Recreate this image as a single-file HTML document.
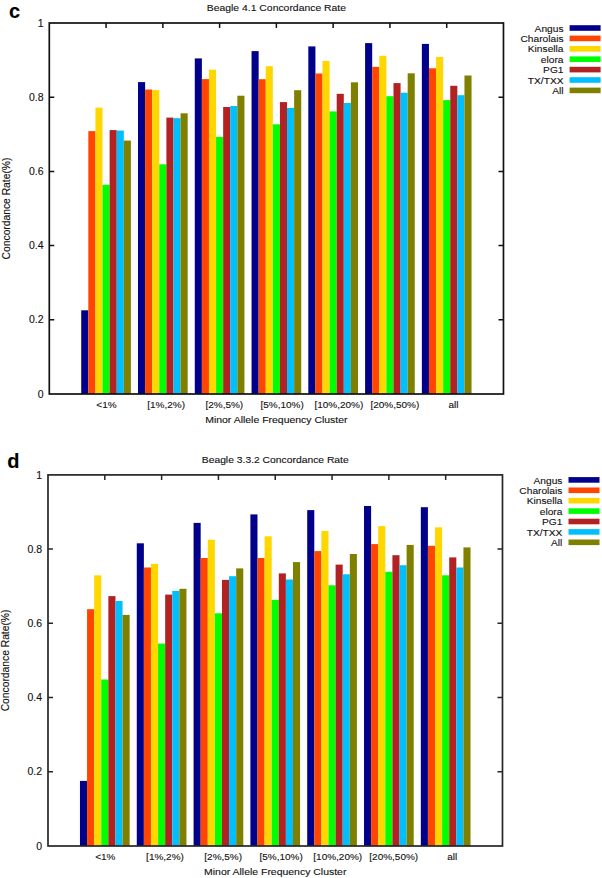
<!DOCTYPE html>
<html><head><meta charset="utf-8"><style>
html,body{margin:0;padding:0;background:#fff;overflow:hidden;}
svg{display:block;}
text{font-family:"Liberation Sans",sans-serif;font-size:10px;fill:#111;stroke:#111;stroke-width:0.12px;}
</style></head><body>
<svg width="602" height="878" viewBox="0 0 602 878">
<rect x="81.23" y="310.30" width="7.10" height="83.70" fill="#00008b"/>
<rect x="88.33" y="131.10" width="7.10" height="262.90" fill="#ff4500"/>
<rect x="95.43" y="107.60" width="7.10" height="286.40" fill="#ffd700"/>
<rect x="102.52" y="184.80" width="7.10" height="209.20" fill="#00ff00"/>
<rect x="109.62" y="130.10" width="7.10" height="263.90" fill="#b22222"/>
<rect x="116.72" y="130.60" width="7.10" height="263.40" fill="#00bfff"/>
<rect x="123.81" y="140.60" width="7.10" height="253.40" fill="#808000"/>
<rect x="138.01" y="82.10" width="7.10" height="311.90" fill="#00008b"/>
<rect x="145.10" y="89.50" width="7.10" height="304.50" fill="#ff4500"/>
<rect x="152.20" y="90.10" width="7.10" height="303.90" fill="#ffd700"/>
<rect x="159.29" y="164.30" width="7.10" height="229.70" fill="#00ff00"/>
<rect x="166.39" y="117.60" width="7.10" height="276.40" fill="#b22222"/>
<rect x="173.49" y="118.20" width="7.10" height="275.80" fill="#00bfff"/>
<rect x="180.58" y="113.30" width="7.10" height="280.70" fill="#808000"/>
<rect x="194.78" y="58.40" width="7.10" height="335.60" fill="#00008b"/>
<rect x="201.87" y="79.10" width="7.10" height="314.90" fill="#ff4500"/>
<rect x="208.97" y="69.70" width="7.10" height="324.30" fill="#ffd700"/>
<rect x="216.07" y="136.90" width="7.10" height="257.10" fill="#00ff00"/>
<rect x="223.16" y="107.00" width="7.10" height="287.00" fill="#b22222"/>
<rect x="230.26" y="106.00" width="7.10" height="288.00" fill="#00bfff"/>
<rect x="237.35" y="95.70" width="7.10" height="298.30" fill="#808000"/>
<rect x="251.55" y="51.10" width="7.10" height="342.90" fill="#00008b"/>
<rect x="258.64" y="79.20" width="7.10" height="314.80" fill="#ff4500"/>
<rect x="265.74" y="66.20" width="7.10" height="327.80" fill="#ffd700"/>
<rect x="272.84" y="124.30" width="7.10" height="269.70" fill="#00ff00"/>
<rect x="279.93" y="102.10" width="7.10" height="291.90" fill="#b22222"/>
<rect x="287.03" y="107.90" width="7.10" height="286.10" fill="#00bfff"/>
<rect x="294.13" y="90.20" width="7.10" height="303.80" fill="#808000"/>
<rect x="308.32" y="46.40" width="7.10" height="347.60" fill="#00008b"/>
<rect x="315.42" y="73.50" width="7.10" height="320.50" fill="#ff4500"/>
<rect x="322.51" y="61.00" width="7.10" height="333.00" fill="#ffd700"/>
<rect x="329.61" y="111.40" width="7.10" height="282.60" fill="#00ff00"/>
<rect x="336.70" y="93.80" width="7.10" height="300.20" fill="#b22222"/>
<rect x="343.80" y="103.00" width="7.10" height="291.00" fill="#00bfff"/>
<rect x="350.90" y="82.30" width="7.10" height="311.70" fill="#808000"/>
<rect x="365.09" y="43.10" width="7.10" height="350.90" fill="#00008b"/>
<rect x="372.19" y="66.90" width="7.10" height="327.10" fill="#ff4500"/>
<rect x="379.28" y="55.80" width="7.10" height="338.20" fill="#ffd700"/>
<rect x="386.38" y="96.20" width="7.10" height="297.80" fill="#00ff00"/>
<rect x="393.48" y="83.10" width="7.10" height="310.90" fill="#b22222"/>
<rect x="400.57" y="92.70" width="7.10" height="301.30" fill="#00bfff"/>
<rect x="407.67" y="73.30" width="7.10" height="320.70" fill="#808000"/>
<rect x="421.86" y="43.90" width="7.10" height="350.10" fill="#00008b"/>
<rect x="428.96" y="68.30" width="7.10" height="325.70" fill="#ff4500"/>
<rect x="436.05" y="56.90" width="7.10" height="337.10" fill="#ffd700"/>
<rect x="443.15" y="100.10" width="7.10" height="293.90" fill="#00ff00"/>
<rect x="450.25" y="85.80" width="7.10" height="308.20" fill="#b22222"/>
<rect x="457.34" y="95.20" width="7.10" height="298.80" fill="#00bfff"/>
<rect x="464.44" y="75.50" width="7.10" height="318.50" fill="#808000"/>
<rect x="49.30" y="23.00" width="454.17" height="371.00" fill="none" stroke="#111" stroke-width="1.7"/>
<text transform="translate(43.60 397.60) scale(1.05 1.0)" text-anchor="end">0</text>
<text transform="translate(43.60 323.40) scale(1.05 1.0)" text-anchor="end">0.2</text>
<text transform="translate(43.60 249.20) scale(1.05 1.0)" text-anchor="end">0.4</text>
<text transform="translate(43.60 175.00) scale(1.05 1.0)" text-anchor="end">0.6</text>
<text transform="translate(43.60 100.80) scale(1.05 1.0)" text-anchor="end">0.8</text>
<text transform="translate(43.60 26.60) scale(1.05 1.0)" text-anchor="end">1</text>
<path d="M49.30 319.80h5M503.47 319.80h-5M49.30 245.60h5M503.47 245.60h-5M49.30 171.40h5M503.47 171.40h-5M49.30 97.20h5M503.47 97.20h-5M106.07 23.00v5M162.84 23.00v5M219.61 23.00v5M276.38 23.00v5M333.16 23.00v5M389.93 23.00v5M446.70 23.00v5" stroke="#111" stroke-width="1.5" fill="none"/>
<text transform="translate(96.30 407.80) scale(1.0 0.95)">&lt;1%</text>
<text transform="translate(147.20 407.80) scale(1.0 0.95)">[1%,2%)</text>
<text transform="translate(205.40 407.80) scale(1.0 0.95)">[2%,5%)</text>
<text transform="translate(260.50 407.80) scale(1.0 0.95)">[5%,10%)</text>
<text transform="translate(314.40 407.80) scale(1.0 0.95)">[10%,20%)</text>
<text transform="translate(370.40 407.80) scale(1.0 0.95)">[20%,50%)</text>
<text transform="translate(448.40 407.80) scale(1.0 0.95)">all</text>
<text transform="translate(276.38 423.30) scale(1.046 0.95)" text-anchor="middle">Minor Allele Frequency Cluster</text>
<text transform="translate(276.38 10.70) scale(1.04 0.96)" text-anchor="middle">Beagle 4.1 Concordance Rate</text>
<text transform="translate(10.00 208.50) rotate(-90) scale(1.03 1.0)" text-anchor="middle">Concordance Rate(%)</text>
<rect x="569.60" y="25.20" width="31" height="5.6" fill="#00008b"/>
<text transform="translate(563.50 31.60) scale(1.02 0.95)" text-anchor="end">Angus</text>
<rect x="569.60" y="35.60" width="31" height="5.6" fill="#ff4500"/>
<text transform="translate(563.50 42.00) scale(1.02 0.95)" text-anchor="end">Charolais</text>
<rect x="569.60" y="46.00" width="31" height="5.6" fill="#ffd700"/>
<text transform="translate(563.50 52.40) scale(1.02 0.95)" text-anchor="end">Kinsella</text>
<rect x="569.60" y="56.40" width="31" height="5.6" fill="#00ff00"/>
<text transform="translate(563.50 62.80) scale(1.02 0.95)" text-anchor="end">elora</text>
<rect x="569.60" y="66.80" width="31" height="5.6" fill="#b22222"/>
<text transform="translate(563.50 73.20) scale(1.02 0.95)" text-anchor="end">PG1</text>
<rect x="569.60" y="77.20" width="31" height="5.6" fill="#00bfff"/>
<text transform="translate(563.50 83.60) scale(1.02 0.95)" text-anchor="end">TX/TXX</text>
<rect x="569.60" y="87.60" width="31" height="5.6" fill="#808000"/>
<text transform="translate(563.50 94.00) scale(1.02 0.95)" text-anchor="end">All</text>
<rect x="79.96" y="780.90" width="7.10" height="65.10" fill="#00008b"/>
<rect x="87.06" y="609.20" width="7.10" height="236.80" fill="#ff4500"/>
<rect x="94.16" y="575.30" width="7.10" height="270.70" fill="#ffd700"/>
<rect x="101.26" y="679.50" width="7.10" height="166.50" fill="#00ff00"/>
<rect x="108.36" y="596.10" width="7.10" height="249.90" fill="#b22222"/>
<rect x="115.46" y="601.00" width="7.10" height="245.00" fill="#00bfff"/>
<rect x="122.56" y="614.90" width="7.10" height="231.10" fill="#808000"/>
<rect x="136.77" y="543.30" width="7.10" height="302.70" fill="#00008b"/>
<rect x="143.87" y="567.50" width="7.10" height="278.50" fill="#ff4500"/>
<rect x="150.97" y="563.80" width="7.10" height="282.20" fill="#ffd700"/>
<rect x="158.07" y="643.60" width="7.10" height="202.40" fill="#00ff00"/>
<rect x="165.17" y="594.60" width="7.10" height="251.40" fill="#b22222"/>
<rect x="172.27" y="590.90" width="7.10" height="255.10" fill="#00bfff"/>
<rect x="179.37" y="588.80" width="7.10" height="257.20" fill="#808000"/>
<rect x="193.58" y="522.90" width="7.10" height="323.10" fill="#00008b"/>
<rect x="200.68" y="558.00" width="7.10" height="288.00" fill="#ff4500"/>
<rect x="207.78" y="539.70" width="7.10" height="306.30" fill="#ffd700"/>
<rect x="214.88" y="613.30" width="7.10" height="232.70" fill="#00ff00"/>
<rect x="221.98" y="579.90" width="7.10" height="266.10" fill="#b22222"/>
<rect x="229.08" y="576.20" width="7.10" height="269.80" fill="#00bfff"/>
<rect x="236.18" y="568.40" width="7.10" height="277.60" fill="#808000"/>
<rect x="250.39" y="514.40" width="7.10" height="331.60" fill="#00008b"/>
<rect x="257.49" y="558.00" width="7.10" height="288.00" fill="#ff4500"/>
<rect x="264.59" y="536.30" width="7.10" height="309.70" fill="#ffd700"/>
<rect x="271.69" y="599.80" width="7.10" height="246.20" fill="#00ff00"/>
<rect x="278.79" y="573.40" width="7.10" height="272.60" fill="#b22222"/>
<rect x="285.89" y="579.50" width="7.10" height="266.50" fill="#00bfff"/>
<rect x="292.99" y="562.10" width="7.10" height="283.90" fill="#808000"/>
<rect x="307.20" y="510.10" width="7.10" height="335.90" fill="#00008b"/>
<rect x="314.30" y="551.10" width="7.10" height="294.90" fill="#ff4500"/>
<rect x="321.40" y="531.00" width="7.10" height="315.00" fill="#ffd700"/>
<rect x="328.50" y="585.30" width="7.10" height="260.70" fill="#00ff00"/>
<rect x="335.60" y="564.60" width="7.10" height="281.40" fill="#b22222"/>
<rect x="342.70" y="574.30" width="7.10" height="271.70" fill="#00bfff"/>
<rect x="349.80" y="554.00" width="7.10" height="292.00" fill="#808000"/>
<rect x="364.01" y="506.00" width="7.10" height="340.00" fill="#00008b"/>
<rect x="371.11" y="544.10" width="7.10" height="301.90" fill="#ff4500"/>
<rect x="378.21" y="526.10" width="7.10" height="319.90" fill="#ffd700"/>
<rect x="385.31" y="571.80" width="7.10" height="274.20" fill="#00ff00"/>
<rect x="392.41" y="555.20" width="7.10" height="290.80" fill="#b22222"/>
<rect x="399.51" y="565.20" width="7.10" height="280.80" fill="#00bfff"/>
<rect x="406.61" y="544.90" width="7.10" height="301.10" fill="#808000"/>
<rect x="420.82" y="507.20" width="7.10" height="338.80" fill="#00008b"/>
<rect x="427.92" y="545.80" width="7.10" height="300.20" fill="#ff4500"/>
<rect x="435.02" y="527.30" width="7.10" height="318.70" fill="#ffd700"/>
<rect x="442.12" y="575.30" width="7.10" height="270.70" fill="#00ff00"/>
<rect x="449.22" y="557.40" width="7.10" height="288.60" fill="#b22222"/>
<rect x="456.32" y="567.50" width="7.10" height="278.50" fill="#00bfff"/>
<rect x="463.42" y="547.40" width="7.10" height="298.60" fill="#808000"/>
<rect x="48.00" y="474.90" width="454.48" height="371.10" fill="none" stroke="#262626" stroke-width="1.7"/>
<text transform="translate(42.10 849.60) scale(1.05 1.0)" text-anchor="end">0</text>
<text transform="translate(42.10 775.38) scale(1.05 1.0)" text-anchor="end">0.2</text>
<text transform="translate(42.10 701.16) scale(1.05 1.0)" text-anchor="end">0.4</text>
<text transform="translate(42.10 626.94) scale(1.05 1.0)" text-anchor="end">0.6</text>
<text transform="translate(42.10 552.72) scale(1.05 1.0)" text-anchor="end">0.8</text>
<text transform="translate(42.10 478.50) scale(1.05 1.0)" text-anchor="end">1</text>
<path d="M48.00 771.78h5M502.48 771.78h-5M48.00 697.56h5M502.48 697.56h-5M48.00 623.34h5M502.48 623.34h-5M48.00 549.12h5M502.48 549.12h-5M104.81 474.90v5M161.62 474.90v5M218.43 474.90v5M275.24 474.90v5M332.05 474.90v5M388.86 474.90v5M445.67 474.90v5" stroke="#262626" stroke-width="1.5" fill="none"/>
<text transform="translate(95.20 859.70) scale(1.0 0.95)">&lt;1%</text>
<text transform="translate(146.10 859.70) scale(1.0 0.95)">[1%,2%)</text>
<text transform="translate(204.30 859.70) scale(1.0 0.95)">[2%,5%)</text>
<text transform="translate(259.40 859.70) scale(1.0 0.95)">[5%,10%)</text>
<text transform="translate(313.30 859.70) scale(1.0 0.95)">[10%,20%)</text>
<text transform="translate(369.30 859.70) scale(1.0 0.95)">[20%,50%)</text>
<text transform="translate(447.30 859.70) scale(1.0 0.95)">all</text>
<text transform="translate(275.24 875.20) scale(1.046 0.95)" text-anchor="middle">Minor Allele Frequency Cluster</text>
<text transform="translate(275.24 462.60) scale(1.033 0.96)" text-anchor="middle">Beagle 3.3.2 Concordance Rate</text>
<text transform="translate(8.90 660.45) rotate(-90) scale(1.03 1.1)" text-anchor="middle">Concordance Rate(%)</text>
<rect x="568.50" y="477.10" width="31" height="5.6" fill="#00008b"/>
<text transform="translate(562.40 483.50) scale(1.02 0.95)" text-anchor="end">Angus</text>
<rect x="568.50" y="487.50" width="31" height="5.6" fill="#ff4500"/>
<text transform="translate(562.40 493.90) scale(1.02 0.95)" text-anchor="end">Charolais</text>
<rect x="568.50" y="497.90" width="31" height="5.6" fill="#ffd700"/>
<text transform="translate(562.40 504.30) scale(1.02 0.95)" text-anchor="end">Kinsella</text>
<rect x="568.50" y="508.30" width="31" height="5.6" fill="#00ff00"/>
<text transform="translate(562.40 514.70) scale(1.02 0.95)" text-anchor="end">elora</text>
<rect x="568.50" y="518.70" width="31" height="5.6" fill="#b22222"/>
<text transform="translate(562.40 525.10) scale(1.02 0.95)" text-anchor="end">PG1</text>
<rect x="568.50" y="529.10" width="31" height="5.6" fill="#00bfff"/>
<text transform="translate(562.40 535.50) scale(1.02 0.95)" text-anchor="end">TX/TXX</text>
<rect x="568.50" y="539.50" width="31" height="5.6" fill="#808000"/>
<text transform="translate(562.40 545.90) scale(1.02 0.95)" text-anchor="end">All</text>
<text x="9" y="17.7" style="font-weight:bold;font-size:20px;fill:#000">c</text>
<text x="7.3" y="467.6" style="font-weight:bold;font-size:20px;fill:#000">d</text>
</svg>
</body></html>
